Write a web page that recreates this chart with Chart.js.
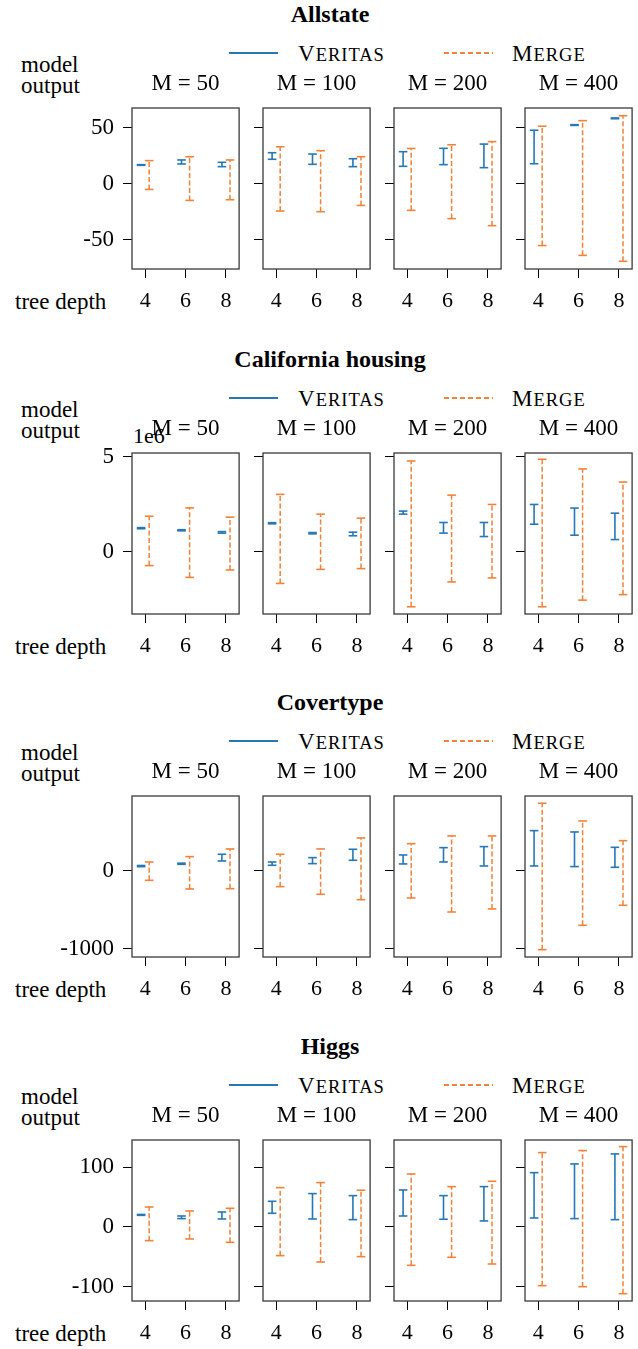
<!DOCTYPE html>
<html>
<head>
<meta charset="utf-8">
<script src="https://cdn.jsdelivr.net/npm/chart.js@4.4.0/dist/chart.umd.min.js"></script>
<style>
  body { margin: 0; background: #fff; }
  #fig { position: relative; width: 638px; height: 1349px; overflow: hidden;
         font-family: 'Liberation Serif', 'Times New Roman', serif; color: #000; }
  .txt { position: absolute; white-space: nowrap; line-height: 1; }
  .panel { position: absolute; }
  .leg { position: absolute; width: 49px; height: 1.6px; }
</style>
</head>
<body>
<div id="fig"></div>
<script>
// x categories and panel groups
const depths = [4, 6, 8];
const mValues = [50, 100, 200, 400];

// each array is [M = 50, 100, 200, 400][depth 4, 6, 8]
const allstateVeritasLow  = [[16.6, 17.8, 15.4], [22.0, 17.5, 15.4], [15.7, 17.2, 14.5], [18.0, 52.3, 58.3]];
const allstateVeritasHigh = [[17.2, 21.4, 19.3], [27.9, 26.7, 22.5], [28.8, 31.8, 35.6], [48.0, 53.0, 59.0]];
const allstateMergeLow    = [[-5.0, -14.8, -14.2], [-24.3, -24.9, -19.3], [-23.7, -31.1, -37.4], [-55.2, -64.0, -69.3]];
const allstateMergeHigh   = [[20.8, 24.3, 21.4], [33.2, 29.7, 24.3], [31.7, 35.0, 37.8], [51.6, 56.6, 61.0]];

const californiaVeritasLow  = [[1.22e6, 1.11e6, 0.99e6], [1.48e6, 0.95e6, 0.85e6], [1.99e6, 0.99e6, 0.81e6], [1.46e6, 0.88e6, 0.65e6]];
const californiaVeritasHigh = [[1.28e6, 1.17e6, 1.07e6], [1.54e6, 1.02e6, 1.04e6], [2.15e6, 1.55e6, 1.55e6], [2.50e6, 2.31e6, 2.04e6]];
const californiaMergeLow    = [[-0.72e6, -1.34e6, -0.95e6], [-1.66e6, -0.92e6, -0.88e6], [-2.89e6, -1.58e6, -1.37e6], [-2.89e6, -2.54e6, -2.25e6]];
const californiaMergeHigh   = [[1.88e6, 2.32e6, 1.83e6], [3.03e6, 1.99e6, 1.78e6], [4.79e6, 2.99e6, 2.50e6], [4.88e6, 4.37e6, 3.68e6]];

const covertypeVeritasLow  = [[55, 85, 128], [73, 94, 137], [90, 115, 64], [64, 56, 47]];
const covertypeVeritasHigh = [[70, 100, 214], [115, 171, 278], [205, 299, 312], [517, 500, 303]];
const covertypeMergeLow    = [[-120, -231, -227], [-201, -299, -368], [-346, -526, -487], [-1009, -697, -440]];
const covertypeMergeHigh   = [[115, 184, 282], [214, 282, 423], [350, 449, 449], [868, 641, 389]];

const higgsVeritasLow  = [[19.5, 14.0, 13.4], [22.9, 13.4, 12.3], [18.4, 12.9, 10.1], [15.1, 14.0, 12.3]];
const higgsVeritasHigh = [[21.0, 18.4, 25.1], [43.0, 55.9, 52.5], [62.0, 52.5, 67.6], [91.0, 105.6, 122.4]];
const higgsMergeLow    = [[-22.9, -20.1, -25.7], [-48.0, -58.7, -49.7], [-64.3, -50.8, -62.0], [-98.3, -100.0, -111.7]];
const higgsMergeHigh   = [[33.5, 26.8, 31.3], [65.9, 74.3, 61.5], [88.8, 67.6, 76.5], [124.6, 128.0, 134.6]];

// y tick labels and y limits per dataset
const allstateTicks = [-50, 0, 50];
const californiaTicks = [0, 5e6];
const covertypeTicks = [-1000, 0];
const higgsTicks = [-100, 0, 100];
const allstateRange = [-76.2, 67.9];
const californiaRange = [-3.27e6, 5.21e6];
const covertypeRange = [-1103, 961];
const higgsRange = [-124, 145.7];

const rows = [
    { title: 'Allstate', vLow: allstateVeritasLow, vHigh: allstateVeritasHigh, mLow: allstateMergeLow, mHigh: allstateMergeHigh, ticks: allstateTicks, range: allstateRange, div: 1 },
    { title: 'California housing', vLow: californiaVeritasLow, vHigh: californiaVeritasHigh, mLow: californiaMergeLow, mHigh: californiaMergeHigh, ticks: californiaTicks, range: californiaRange, div: 1e6 },
    { title: 'Covertype', vLow: covertypeVeritasLow, vHigh: covertypeVeritasHigh, mLow: covertypeMergeLow, mHigh: covertypeMergeHigh, ticks: covertypeTicks, range: covertypeRange, div: 1 },
    { title: 'Higgs', vLow: higgsVeritasLow, vHigh: higgsVeritasHigh, mLow: higgsMergeLow, mHigh: higgsMergeHigh, ticks: higgsTicks, range: higgsRange, div: 1 }
];

const blue = '#2677b4';
const orange = '#f0823a';
const serif = "'Liberation Serif', 'Times New Roman', serif";

// layout (pixels)
const colLeft = [132, 263, 394, 525];
const rowTop = [108, 453, 796, 1140];
const PW = 109, PH = 161;
const TH = 40, XH = 50, RP = 4;

Chart.defaults.font.family = serif;
Chart.defaults.color = '#000';

const fig = document.getElementById('fig');

function addText(html, x, baseline, size, extra) {
    const d = document.createElement('div');
    d.className = 'txt';
    d.innerHTML = html;
    d.style.fontSize = size + 'px';
    d.style.left = x + 'px';
    d.style.top = (baseline - 0.8375 * size) + 'px';
    if (extra) Object.assign(d.style, extra);
    fig.appendChild(d);
}

function addLegendLine(x, y, color, dashed) {
    const d = document.createElement('div');
    d.className = 'leg';
    d.style.left = x + 'px';
    d.style.top = (y - 0.8) + 'px';
    d.style.background = dashed
        ? 'repeating-linear-gradient(to right, ' + color + ' 0 5px, transparent 5px 8px)'
        : color;
    fig.appendChild(d);
}

// box around each panel (matplotlib spines)
const frame = {
    id: 'frame',
    afterDatasetsDraw(chart) {
        const { ctx, chartArea: a } = chart;
        ctx.save();
        ctx.strokeStyle = '#3a3a3a';
        ctx.lineWidth = 1.3;
        ctx.strokeRect(a.left, a.top, a.right - a.left, a.bottom - a.top);
        ctx.restore();
    }
};

function barPoints(lows, highs, shift) {
    const pts = [];
    depths.forEach((d, i) => {
        pts.push({ x: d + shift, y: lows[i] }, { x: d + shift, y: highs[i] }, { x: d + shift, y: null });
    });
    return pts;
}

rows.forEach((row, r) => {
    const top = rowTop[r];

    addText('<b>' + row.title + '</b>', 330, top - 86, 24, { transform: 'translateX(-50%)' });
    addLegendLine(229, top - 55, blue, false);
    addText('V<span style="font-size:18.5px">ERITAS</span>', 298, top - 47, 23, { letterSpacing: '1px' });
    addLegendLine(444, top - 55, orange, true);
    addText('M<span style="font-size:18.5px">ERGE</span>', 512, top - 47, 23, { letterSpacing: '1px' });
    addText('model', 21, top - 36, 23);
    addText('output', 21, top - 15, 23);
    addText('tree depth', 15, top + PH + 40, 23);
    if (row.div !== 1) addText('1e6', 133, top - 10, 22);

    mValues.forEach((m, c) => {
        const yw = c === 0 ? 80 : 12;
        const canvas = document.createElement('canvas');
        const w = yw + PW + RP, h = TH + PH + XH;
        canvas.width = w;
        canvas.height = h;
        canvas.className = 'panel';
        canvas.style.left = (colLeft[c] - yw) + 'px';
        canvas.style.top = (top - TH) + 'px';
        canvas.style.width = w + 'px';
        canvas.style.height = h + 'px';
        fig.appendChild(canvas);

        new Chart(canvas, {
            type: 'line',
            data: {
                datasets: [{
                    label: 'Veritas',
                    data: barPoints(row.vLow[c], row.vHigh[c], -0.2),
                    borderColor: blue,
                    borderWidth: 1.6,
                    pointStyle: 'line',
                    pointRadius: 4.3,
                    pointHoverRadius: 4.3,
                    pointBorderWidth: 1.6,
                    pointBorderColor: blue,
                    spanGaps: false,
                    tension: 0
                }, {
                    label: 'Merge',
                    data: barPoints(row.mLow[c], row.mHigh[c], 0.2),
                    borderColor: orange,
                    borderWidth: 1.5,
                    borderDash: [5, 2.5],
                    pointStyle: 'line',
                    pointRadius: 4.3,
                    pointHoverRadius: 4.3,
                    pointBorderWidth: 1.6,
                    pointBorderColor: orange,
                    spanGaps: false,
                    tension: 0
                }]
            },
            options: {
                responsive: false,
                animation: false,
                events: [],
                layout: { padding: { left: 0, right: RP, top: 0, bottom: 0 } },
                plugins: {
                    legend: { display: false },
                    tooltip: { enabled: false },
                    title: {
                        display: true,
                        fullSize: false,
                        text: 'M = ' + m,
                        font: { family: serif, size: 23, weight: 'normal' },
                        color: '#000',
                        padding: { top: 2, bottom: 10.4 }
                    }
                },
                scales: {
                    x: {
                        type: 'linear',
                        min: 3.35,
                        max: 8.65,
                        afterBuildTicks: s => { s.ticks = depths.map(v => ({ value: v })); },
                        afterFit: s => { s.height = XH; },
                        grid: { drawOnChartArea: false, tickLength: 9, tickColor: '#000', tickWidth: 1 },
                        border: { display: false },
                        ticks: { font: { family: serif, size: 22 }, color: '#000', padding: 10, maxRotation: 0, callback: v => String(v) }
                    },
                    y: {
                        type: 'linear',
                        min: row.range[0],
                        max: row.range[1],
                        afterBuildTicks: s => { s.ticks = row.ticks.map(v => ({ value: v })); },
                        afterFit: s => { s.width = yw; },
                        grid: { drawOnChartArea: false, tickLength: 9, tickColor: '#000', tickWidth: 1 },
                        border: { display: false },
                        ticks: { display: c === 0, font: { family: serif, size: 23 }, color: '#000', padding: 9, callback: v => String(v / row.div) }
                    }
                }
            },
            plugins: [frame]
        });
    });
});
</script>
</body>
</html>
